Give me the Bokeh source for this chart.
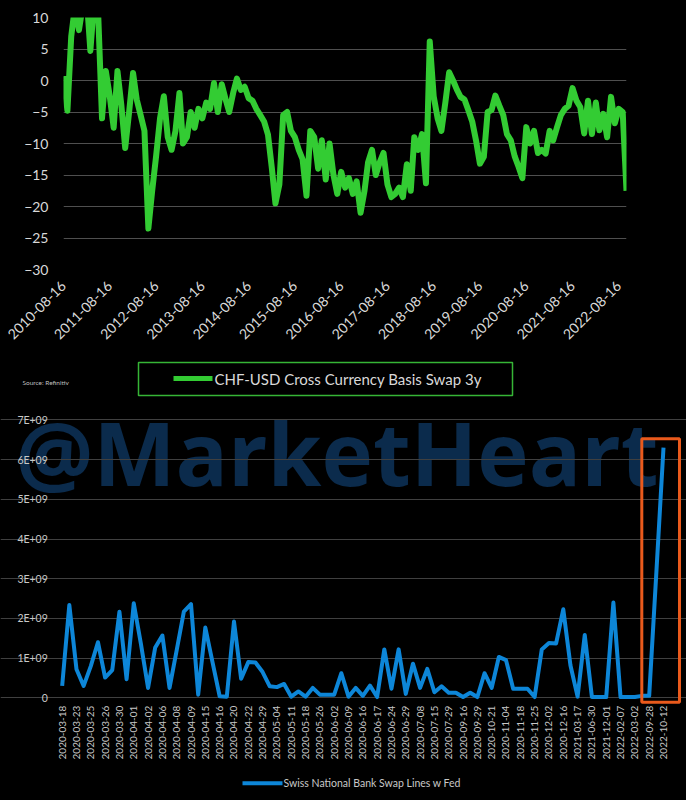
import math
import pandas as pd
from bokeh.plotting import figure
from bokeh.layouts import column
from bokeh.models import (Range1d, FixedTicker, DatetimeTickFormatter, Label,
                          BoxAnnotation, GlobalInlineStyleSheet)
from bokeh.embed import file_html
from bokeh.resources import INLINE

# ---------------- data: CHF-USD cross currency basis swap 3y (monthly readings, bp) -------------
chf_start = "2010-08-16"
chf_basis = [
    0.7, -4.8, 7, 12, 8, 12, 13, 4.7, 13, 11,
    -6, 1.5, -2.5, -7.5, 1.5, -4, -10.7, -5, 1.2, -3,
    -5.5, -8, -23.5, -17.5, -12, -6, -2.5, -9, -11, -8,
    -2, -10, -9, -5, -7.5, -4.5, -6, -3.5, -4.5, -0.4,
    -5, -0.6, -3, -5, -2, 0.3, -1.5, -1, -2.8, -3.2,
    -4.5, -5.5, -6.5, -8.6, -14, -19.5, -16.5, -5.5, -5, -8,
    -9, -11, -12.5, -18.3, -8, -9, -14, -9.5, -15.7, -10,
    -15, -18, -14.5, -17, -15.5, -18, -16, -21, -17.5, -13,
    -11, -15, -13, -11.5, -16.5, -18.5, -18, -17, -18.5, -13.3,
    -17.5, -9, -11, -8.5, -16.3, 6.2, -2.5, -6, -8, -3.5,
    1.3, 0, -1.5, -2.6, -3, -4.7, -6.5, -9.5, -13.2, -12.1,
    -5, -4.7, -2.4, -4, -5.5, -8.5, -9.5, -12, -13.7, -15.5,
    -7.4, -10, -8, -11.5, -11, -11.6, -8, -9.5, -7.4, -5.5,
    -4.5, -4, -1.2, -3.2, -4.2, -8.4, -3.2, -8.5, -3.5, -7.9,
    -5.3, -9, -2.6, -6.8, -4.5, -5, -17.5,
]
top_tick_labels = ["2010-08-16", "2011-08-16", "2012-08-16", "2013-08-16", "2014-08-16",
                   "2015-08-16", "2016-08-16", "2017-08-16", "2018-08-16", "2019-08-16",
                   "2020-08-16", "2021-08-16", "2022-08-16"]
top_y_ticks = [-30, -25, -20, -15, -10, -5, 0, 5, 10]

# ---------------- data: Swiss National Bank swap lines with Fed (billions USD) ----------------
swap_lines_bn = [
    0.30, 2.34, 0.72, 0.30, 0.80, 1.40, 0.51, 0.70, 2.17, 0.47,
    2.38, 1.36, 0.25, 1.27, 1.57, 0.25, 1.20, 2.17, 2.36, 0.08,
    1.77, 0.90, 0.04, 0.03, 1.92, 0.48, 0.90, 0.89, 0.65, 0.29,
    0.27, 0.35, 0.03, 0.16, 0.03, 0.25, 0.08, 0.08, 0.08, 0.62,
    0.03, 0.25, 0.05, 0.31, 0.02, 1.22, 0.23, 1.22, 0.10, 0.86,
    0.25, 0.73, 0.14, 0.29, 0.13, 0.13, 0.02, 0.13, 0.02, 0.62,
    0.25, 1.03, 0.95, 0.23, 0.23, 0.23, 0.02, 1.22, 1.38, 1.37,
    2.23, 0.82, 0.03, 1.58, 0.02, 0.02, 0.02, 2.40, 0.02, 0.02,
    0.02, 0.05, 0.05, 3.15, 6.30,
]
swap_tick_labels = [
    "2020-03-18", "2020-03-23", "2020-03-25", "2020-03-26", "2020-03-30", "2020-04-01",
    "2020-04-02", "2020-04-06", "2020-04-08", "2020-04-09", "2020-04-15", "2020-04-16",
    "2020-04-20", "2020-04-22", "2020-04-29", "2020-05-04", "2020-05-11", "2020-05-18",
    "2020-05-26", "2020-06-02", "2020-06-09", "2020-06-16", "2020-06-17", "2020-06-24",
    "2020-06-29", "2020-07-08", "2020-07-15", "2020-07-29", "2020-09-16", "2020-09-29",
    "2020-10-21", "2020-11-04", "2020-11-18", "2020-11-25", "2020-12-02", "2020-12-16",
    "2021-03-17", "2021-06-30", "2021-12-01", "2022-02-07", "2022-03-02", "2022-09-28",
    "2022-10-12",
]
swap_y_ticks = [0, 1, 2, 3, 4, 5, 6, 7]
swap_y_labels = ["0", "1E+09", "2E+09", "3E+09", "4E+09", "5E+09", "6E+09", "7E+09"]

# ---------------- styling ----------------
GREEN = "#33cc33"
BLUE = "#0d86d8"
ORANGE = "#ea5a1c"
FONT = "Lato"
W = 686


def style_axis(ax, color, size):
    ax.axis_line_color = None
    ax.major_tick_line_color = None
    ax.minor_tick_line_color = None
    ax.major_tick_out = 0
    ax.major_tick_in = 0
    ax.minor_tick_out = 0
    ax.minor_tick_in = 0
    ax.major_label_text_color = color
    ax.major_label_text_font = FONT
    ax.major_label_text_font_size = size


# ---------------- top chart ----------------
chf_dates = pd.date_range(start=chf_start, periods=len(chf_basis), freq=pd.DateOffset(months=1))

H1 = 355
p1 = figure(width=W, height=H1, x_axis_type="datetime", output_backend="svg",
            toolbar_location=None,
            x_range=Range1d(chf_dates[0], chf_dates[-1]), y_range=Range1d(-30, 10),
            min_border_left=63, min_border_right=60, min_border_top=17, min_border_bottom=86,
            background_fill_color="black", border_fill_color="black",
            outline_line_color=None)
p1.frame_align = False
p1.line(chf_dates, chf_basis, line_color=GREEN, line_width=6, line_join="round")

p1.xgrid.grid_line_color = None
p1.ygrid.grid_line_color = "#4f4f4f"
p1.ygrid.ticker = FixedTicker(ticks=top_y_ticks)
p1.yaxis.ticker = FixedTicker(ticks=top_y_ticks)
p1.xaxis.ticker = FixedTicker(ticks=[pd.Timestamp(t).value / 1e6 for t in top_tick_labels])
fmt = "%Y-%m-%d"
p1.xaxis.formatter = DatetimeTickFormatter(microseconds=fmt, milliseconds=fmt, seconds=fmt,
                                           minsec=fmt, minutes=fmt, hourmin=fmt, hours=fmt,
                                           days=fmt, months=fmt, years=fmt)
p1.xaxis.major_label_orientation = math.pi / 4
style_axis(p1.xaxis, "#d9d9d9", "14px")
style_axis(p1.yaxis, "#d9d9d9", "14px")
p1.xaxis.major_label_standoff = 14
p1.yaxis.major_label_standoff = 15

# ---------------- bottom chart (frame covers the whole canvas, axes fixed in place) -----------
H2 = 443
TOP2 = H1                      # page y of this canvas' top edge
idx = list(range(len(swap_lines_bn)))
X0, X1 = -0.47, len(swap_lines_bn) - 1 + 0.42     # plotting area (gridline extent)
Y0, Y1 = -0.12, 7.0
PX_L, PX_R = 58.3, 666.0       # page x of X0 / X1
PY_T, PY_B = 419.4, 702.1      # page y of Y1 / Y0

sx = (X1 - X0) / (PX_R - PX_L)
sy = (Y1 - Y0) / (PY_B - PY_T)


def x2(px):
    return X0 + (px - PX_L) * sx


def y2(py):
    return Y1 - (py - PY_T) * sy


p2 = figure(width=W, height=H2, output_backend="svg", toolbar_location=None,
            x_range=Range1d(x2(0), x2(W)), y_range=Range1d(y2(TOP2 + H2), y2(TOP2)),
            min_border=0, min_border_left=0, min_border_right=0, min_border_top=0,
            min_border_bottom=0,
            background_fill_color="black", border_fill_color="black",
            outline_line_color=None)
p2.frame_align = False

# watermark (behind everything)
p2.add_layout(Label(x=x2(15), y=y2(451), text="@MarketHeart", text_font="Open Sans",
                    text_font_style="bold", text_font_size="87px", text_color="#0b2b4c",
                    text_baseline="alphabetic", level="image"))

p2.line(idx, swap_lines_bn, line_color=BLUE, line_width=4, line_join="round")

p2.xgrid.grid_line_color = None
p2.ygrid.grid_line_color = "#404040"
p2.ygrid.ticker = FixedTicker(ticks=swap_y_ticks)
p2.ygrid.bounds = (X0, X1)
p2.yaxis.ticker = FixedTicker(ticks=swap_y_ticks)
p2.yaxis.major_label_overrides = dict(zip(swap_y_ticks, swap_y_labels))
p2.yaxis.fixed_location = X0
p2.xaxis.ticker = FixedTicker(ticks=idx[::2])
p2.xaxis.major_label_overrides = dict(zip(idx[::2], swap_tick_labels))
p2.xaxis.major_label_orientation = math.pi / 2
p2.xaxis.fixed_location = Y0
style_axis(p2.xaxis, "#c8c8c8", "10px")
style_axis(p2.yaxis, "#c8c8c8", "10.5px")
p2.xaxis.major_label_standoff = 3
p2.yaxis.major_label_standoff = 11

# legend of the top chart (sits between the two charts)
p2.add_layout(BoxAnnotation(left=x2(138), right=x2(512), top=y2(362), bottom=y2(395),
                            fill_alpha=0, line_color="#36b536", line_alpha=1,
                            line_width=1.5))
p2.add_layout(BoxAnnotation(left=x2(173), right=x2(212), top=y2(375.5), bottom=y2(380.5),
                            fill_color=GREEN, fill_alpha=1, line_color=None))
p2.add_layout(Label(x=x2(214), y=y2(378.5), text="CHF-USD Cross Currency Basis Swap 3y",
                    text_font=FONT, text_font_size="15px", text_color="#d9d9d9",
                    text_baseline="middle"))
p2.add_layout(Label(x=x2(22), y=y2(382), text="Source: Refinitiv", text_font=FONT,
                    text_font_size="6.5px", text_color="#bfbfbf", text_baseline="middle"))

# highlight box around the last observations
p2.add_layout(BoxAnnotation(left=x2(641.3), right=x2(679), top=y2(438.3), bottom=y2(701.7),
                            fill_alpha=0, line_color=ORANGE, line_alpha=1, line_width=3))

# legend of the bottom chart
p2.add_layout(BoxAnnotation(left=x2(242), right=x2(282), top=y2(780.7), bottom=y2(784.7),
                            fill_color=BLUE, fill_alpha=1, line_color=None))
p2.add_layout(Label(x=x2(283), y=y2(782.7), text="Swiss National Bank Swap Lines w Fed",
                    text_font=FONT, text_font_size="10.5px", text_color="#c8c8c8",
                    text_baseline="middle"))

layout = column(p1, p2, spacing=0,
                stylesheets=[GlobalInlineStyleSheet(css="html, body { background: #000000; }")])

open("out.html", "w").write(file_html(layout, INLINE))
